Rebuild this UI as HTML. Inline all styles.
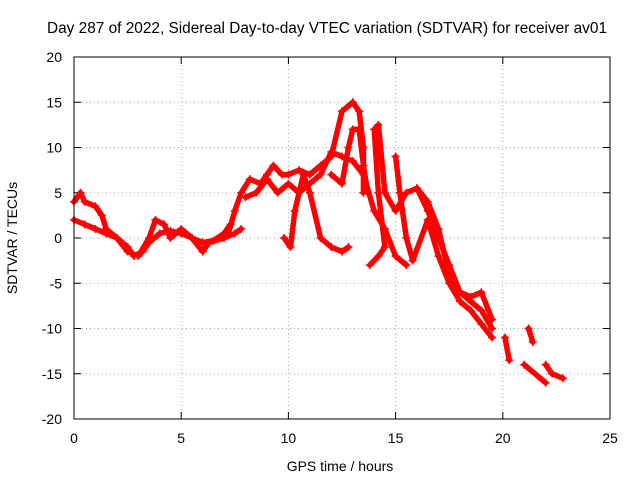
<!DOCTYPE html>
<html><head><meta charset="utf-8"><style>
body{margin:0;background:#fff;}
svg{font-family:"Liberation Sans",sans-serif;}
</style></head><body>
<svg id="c" width="640" height="480" xmlns="http://www.w3.org/2000/svg">
<text x="327" y="33" font-size="15.4" text-anchor="middle">Day 287 of 2022, Sidereal Day-to-day VTEC variation (SDTVAR) for receiver av01</text>
<text x="340" y="471" font-size="14" text-anchor="middle">GPS time / hours</text>
<text x="17" y="238" font-size="14" text-anchor="middle" transform="rotate(-90 17 238)">SDTVAR / TECUs</text>
<g id="grid"></g><g id="ticks"></g><g id="marks"></g>
<rect x="74" y="57" width="536" height="362" fill="none" stroke="#000" stroke-width="1"/>
</svg>
<script>
const xTicks=[0,5,10,15,20,25];
const yTicks=[20,15,10,5,0,-5,-10,-15,-20];
const trackA=[[0,2],[0.5,1.5],[1,1],[1.5,0.5],[2,0],[2.5,-1],[2.8,-2],[3.2,-1.5],[3.5,-0.5],[4,0.5],[4.5,0.8],[5,0.5],[5.5,0],[6,-0.5],[6.5,-0.3],[7,0.5],[7.3,1.5]];
const trackB=[[0,4],[0.3,5],[0.5,4],[1,3.5],[1.3,2.5],[1.5,1],[2,0],[2.5,-1.5],[3,-2],[3.5,0],[3.8,2],[4.2,1.5],[4.5,0],[5,1],[5.5,0],[6,-1.5],[6.3,-0.5],[7,0],[7.5,0.5],[7.8,1]];
const trackC=[[7.2,0.5],[7.5,3],[7.8,5],[8.2,6.5],[8.7,6],[9,7],[9.3,8],[9.7,7],[10,7],[10.5,7.5],[11,7],[11.5,8],[12,9],[12.5,14],[13,15],[13.3,14],[13.5,10],[13.5,5]];
const trackD=[[8,4.5],[8.5,5],[9,6.5],[9.5,5],[10,6],[10.5,5],[11,6],[11.5,7],[12,9.5],[12.5,9],[13,8.5],[13.5,7],[14,3],[14.5,1],[15,-2],[15.5,-3]];
const trackE=[[12,7],[12.5,6],[12.8,10],[13,12],[13.3,12],[13.5,8],[13.7,5]];
const trackF=[[9.8,0],[10.1,-1],[10.3,3],[10.7,7],[11,5],[11.5,0],[12,-1],[12.5,-1.5],[12.8,-1]];
const trackG=[[13.8,-3],[14.2,-2],[14.5,-1],[14.2,5],[14,12],[14.2,12.5],[14.5,5],[15,3],[15.5,5],[16,5.5],[16.5,3],[17,0],[17.5,-3],[18,-6],[18.5,-7],[19,-8],[19.5,-10]];
const trackH=[[15,9],[15.2,5],[15.5,0],[15.8,-2.5],[16.5,2],[17,-2],[17.5,-5],[18,-7],[18.5,-8],[19,-9.5],[19.5,-11]];
const trackI=[[16,5.5],[16.5,4],[17,1],[17.5,-4],[18,-6],[18.5,-6.5],[19,-6],[19.5,-9]];
const trackJ=[[20.1,-11],[20.3,-13.5]];
const trackK=[[21.2,-10],[21.4,-11.5]];
const trackL=[[22,-14],[22.3,-15],[22.8,-15.5]];
const trackM=[[21,-14],[22,-16]];
const tracks=[trackA,trackB,trackC,trackD,trackE,trackF,trackG,trackH,trackI,trackJ,trackK,trackL,trackM];
const NS="http://www.w3.org/2000/svg";
const X=v=>74+v*(536/25), Y=v=>238-v*(362/40);
function mk(t,a,p){const e=document.createElementNS(NS,t);for(const k in a)e.setAttribute(k,a[k]);p.appendChild(e);return e;}
const grid=document.getElementById('grid'),ticks=document.getElementById('ticks'),marks=document.getElementById('marks');
xTicks.forEach(v=>{
 if(v>0&&v<25){const g=mk('line',{x1:X(v),x2:X(v),y1:57,y2:419,stroke:'#aaa','stroke-dasharray':'1,3'},grid);
 }
 mk('line',{x1:X(v),x2:X(v),y1:419,y2:412,stroke:'#000'},ticks);
 mk('line',{x1:X(v),x2:X(v),y1:57,y2:64,stroke:'#000'},ticks);
 const t=mk('text',{x:X(v),y:443,'font-size':14,'text-anchor':'middle'},ticks);t.textContent=v;
 
});
yTicks.forEach(v=>{
 if(v>-20&&v<20){const g=mk('line',{x1:74,x2:610,y1:Y(v),y2:Y(v),stroke:'#aaa','stroke-dasharray':'1,3'},grid);
 }
 mk('line',{x1:74,x2:81,y1:Y(v),y2:Y(v),stroke:'#000'},ticks);
 mk('line',{x1:610,x2:603,y1:Y(v),y2:Y(v),stroke:'#000'},ticks);
 const t=mk('text',{x:62,y:Y(v)+5,'font-size':14,'text-anchor':'end'},ticks);t.textContent=v;
 
});
tracks.forEach(tr=>{
 const p=mk('polyline',{points:tr.map(d=>X(d[0])+','+Y(d[1])).join(' '),fill:'none',stroke:'#f00','stroke-width':5.5,'stroke-linejoin':'round','stroke-linecap':'round'},marks);
 
 
 tr.forEach(d=>{
  const x=X(d[0]),y=Y(d[1]);
  const m=mk('path',{d:`M${x-4},${y}H${x+4}M${x},${y-4}V${y+4}`,stroke:'#f00','stroke-width':1.5},marks);
  
  
 });
});
</script>
</body></html>
